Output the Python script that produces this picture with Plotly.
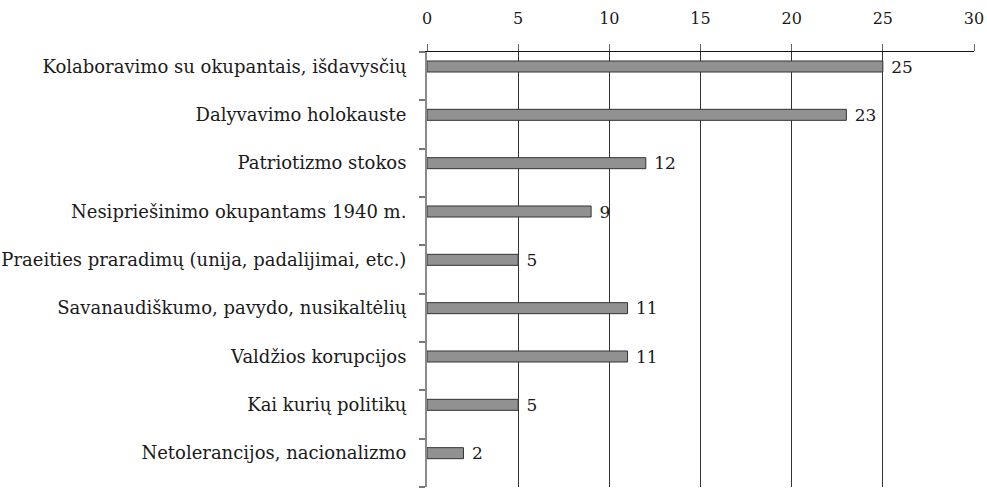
import plotly.graph_objects as go

categories = [
    "Kolaboravimo su okupantais, išdavysčių",
    "Dalyvavimo holokauste",
    "Patriotizmo stokos",
    "Nesipriešinimo okupantams 1940 m.",
    "Praeities praradimų (unija, padalijimai, etc.)",
    "Savanaudiškumo, pavydo, nusikaltėlių",
    "Valdžios korupcijos",
    "Kai kurių politikų",
    "Netolerancijos, nacionalizmo",
]
values = [25, 23, 12, 9, 5, 11, 11, 5, 2]
x_ticks = [0, 5, 10, 15, 20, 25, 30]

font_family = "DejaVu Serif, Liberation Serif, serif"
positions = list(range(len(categories)))

fig = go.Figure(go.Bar(
    x = values,
    y = positions,
    orientation = "h",
    width = 0.228,
    offset = -0.314,
    marker = dict(color = "#919191", line = dict(color = "#333333", width = 1)),
    texttemplate = "\u00a0%{x}",
    textposition = "outside",
    constraintext = "none",
    textfont = dict(family = font_family, size = 17, color = "#1a1a1a"),
    cliponaxis = False,
    hoverinfo = "skip",
))

fig.update_layout(
    width = 987,
    height = 488,
    margin = dict(l = 427, r = 13, t = 52, b = 1),
    paper_bgcolor = "white",
    plot_bgcolor = "white",
    showlegend = False,
    font = dict(family = font_family, size = 17, color = "#1a1a1a"),
)
fig.update_xaxes(
    range = [0, 30],
    side = "top",
    tickvals = x_ticks,
    ticktext = [str(t) for t in x_ticks],
    tickfont = dict(size = 16),
    showgrid = True,
    gridcolor = "#333333",
    gridwidth = 1,
    showline = True,
    linecolor = "#111111",
    linewidth = 1,
    ticks = "outside",
    ticklen = 7,
    tickcolor = "#666666",
    ticklabelstandoff = 14,
    zeroline = False,
)
fig.update_yaxes(
    range = [len(categories) - 0.5, -0.5],
    tickvals = [p - 0.2 for p in positions],
    ticktext = categories,
    ticks = "",
    ticklabelstandoff = 15,
    tickfont = dict(size = 18),
    minor = dict(
        tickvals = [p - 0.5 for p in positions] + [len(categories) - 0.5],
        ticks = "outside",
        ticklen = 6,
        tickcolor = "#777777",
        tickwidth = 2,
        showgrid = False,
    ),
    showgrid = False,
    showline = True,
    linecolor = "#8a8a8a",
    linewidth = 2,
    zeroline = False,
)

fig.write_html(
    "out.html",
    config = {"displayModeBar": False},
    post_script = "document.body.style.margin = '0';",
)
